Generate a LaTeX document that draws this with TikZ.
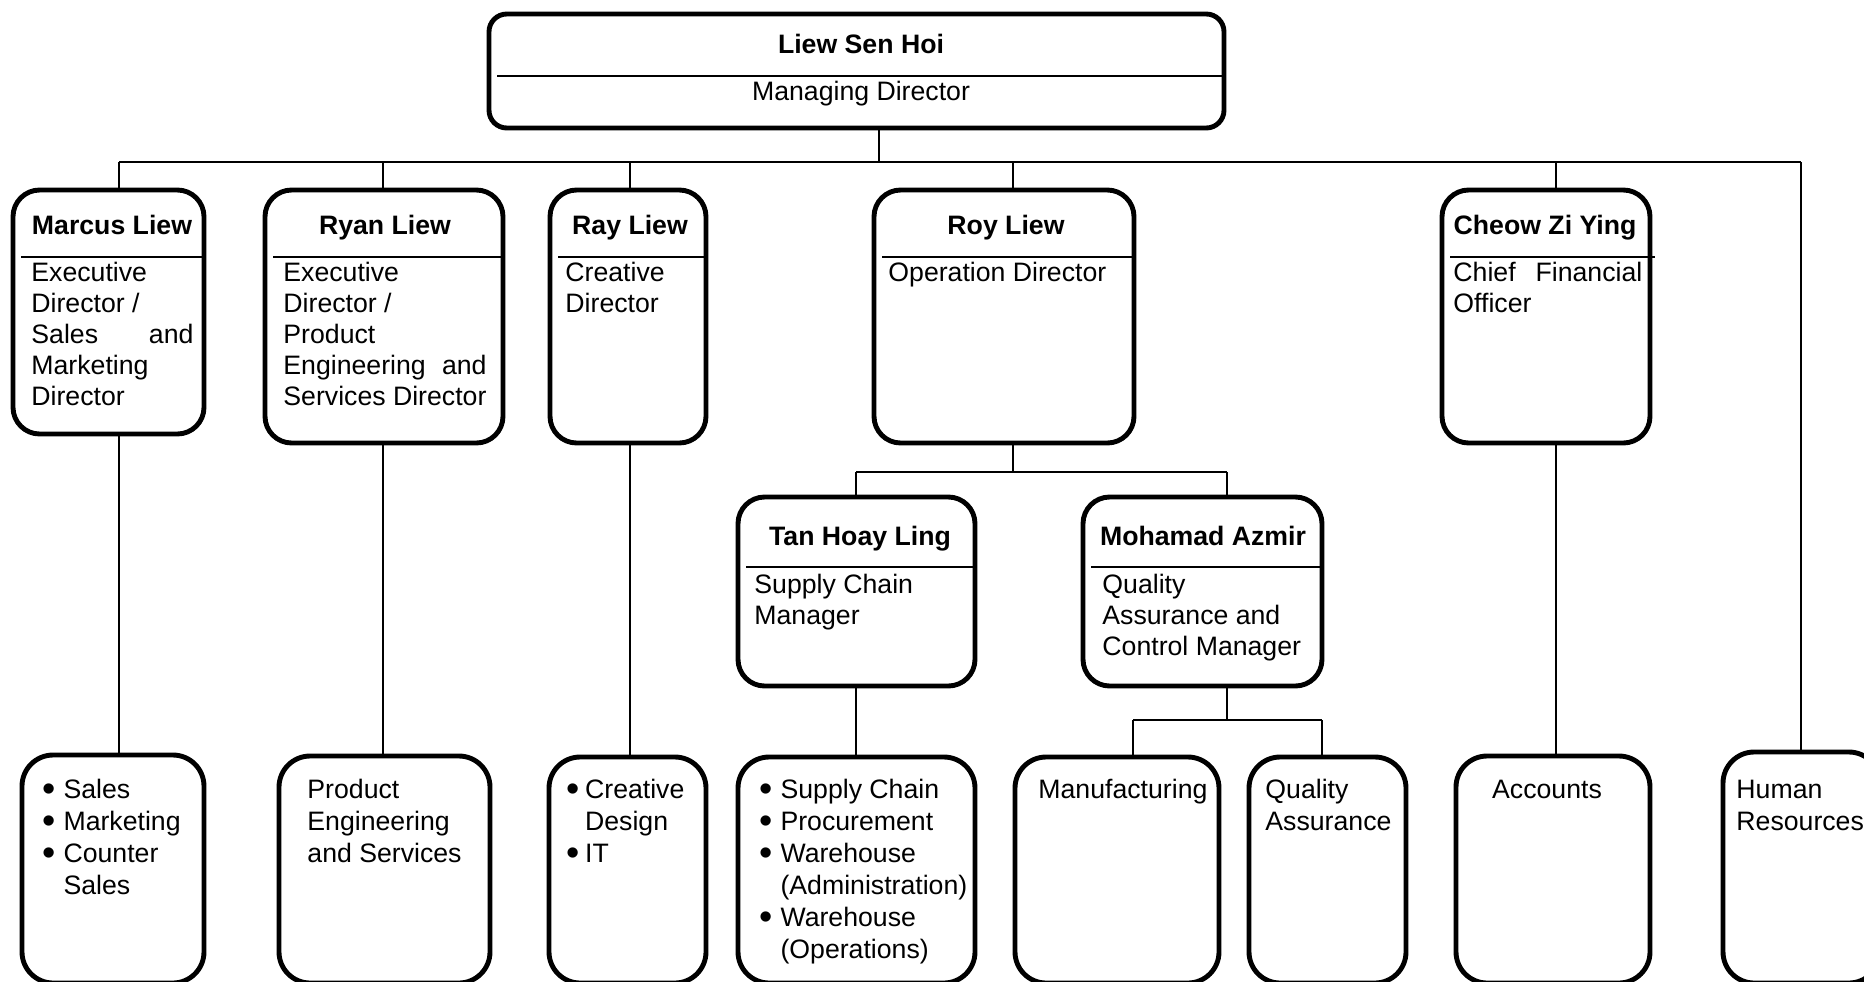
\documentclass[tikz,border=0pt]{standalone}
\usepackage{fontspec}
\setmainfont{Liberation Sans}
\usetikzlibrary{fit,calc}
\newcommand{\orgtext}[2]{\begin{minipage}[t]{#1}\raggedright #2\end{minipage}}
\newcommand{\orgbul}{\makebox[9.5pt][l]{\smash{\raisebox{-1.6pt}{\fontsize{17}{17}\selectfont\textbullet}}}}
\newcommand{\orgind}{\hspace*{9.5pt}}
\newcommand{\orgbulc}{\makebox[8.4pt][l]{\smash{\raisebox{-1.6pt}{\fontsize{17}{17}\selectfont\textbullet}}}}
\newcommand{\orgindc}{\hspace*{8.4pt}}
\begin{document}
\begin{tikzpicture}[x=0.45pt,y=-0.45pt,
  every node/.style={font=\fontsize{12}{14}\selectfont},
  box/.style={draw, line width=2.2pt, rounded corners=12pt, inner sep=0pt},
  topbox/.style={box, rounded corners=8pt},
  lowbox/.style={box, rounded corners=14pt},
  conn/.style={line width=0.9pt},
  divider/.style={line width=0.9pt},
  nametext/.style={anchor=base, inner sep=0pt, font=\fontsize{12}{14}\selectfont\bfseries},
  txt/.style={anchor=base west, inner sep=0pt},
  ltxt/.style={anchor=base west, inner sep=0pt, font=\fontsize{12}{14.4}\selectfont},
]
\useasboundingbox (0,0) rectangle (1864,981);
\clip (0,0) rectangle (1864,981);

% boxes
\node[topbox, fit={(489,14) (1224,128)}] (top) {};
\node[box, fit={(13,190) (204,434)}] (marcus) {};
\node[box, fit={(265,190) (503,443)}] (ryan) {};
\node[box, fit={(550,190) (706,443)}] (ray) {};
\node[box, fit={(874,190) (1134,443)}] (roy) {};
\node[box, fit={(1442,190) (1650,443)}] (cheow) {};
\node[box, fit={(738,497) (975,686)}] (tan) {};
\node[box, fit={(1083,497) (1322,686)}] (azmir) {};
\node[lowbox, fit={(22,755) (204,983)}] (sales) {};
\node[lowbox, fit={(279,756) (490,983)}] (prod) {};
\node[lowbox, fit={(549,757) (706,983)}] (creat) {};
\node[lowbox, fit={(738,757) (975,983)}] (supply) {};
\node[lowbox, fit={(1015,757) (1219,983)}] (manuf) {};
\node[lowbox, fit={(1249,757) (1406,983)}] (qual) {};
\node[lowbox, fit={(1456,756) (1650,983)}] (acct) {};
\node[lowbox, fit={(1723,752) (1880,983)}] (hr) {};

% dividers
\draw[divider] (497,76) -- (top.east |- 497,76);
\draw[divider] (21,257) -- (marcus.east |- 21,257);
\draw[divider] (273,257) -- (ryan.east |- 273,257);
\draw[divider] (558,257) -- (ray.east |- 558,257);
\draw[divider] (882,257) -- (roy.east |- 882,257);
\draw[divider] (1450,257) -- (1655,257);
\draw[divider] (746,567) -- (tan.east |- 746,567);
\draw[divider] (1091,567) -- (azmir.east |- 1091,567);

% connector coordinates
\coordinate (bT) at (879,162);
\coordinate (bM) at (119,162);
\coordinate (bRy) at (383,162);
\coordinate (bRa) at (630,162);
\coordinate (bRo) at (1013,162);
\coordinate (bC) at (1556,162);
\coordinate (bH) at (1801,162);
\coordinate (rB) at (1013,472);
\coordinate (tB) at (856,472);
\coordinate (aB) at (1227,472);
\coordinate (aB2) at (1227,720);
\coordinate (mB) at (1133,720);
\coordinate (qB) at (1322,720);

\draw[conn] (bT |- top.south) -- (bT);
\draw[conn] (bM) -- (bH);
\draw[conn] (bM) -- (bM |- marcus.north);
\draw[conn] (bRy) -- (bRy |- ryan.north);
\draw[conn] (bRa) -- (bRa |- ray.north);
\draw[conn] (bRo) -- (bRo |- roy.north);
\draw[conn] (bC) -- (bC |- cheow.north);
\draw[conn] (bH) -- (bH |- hr.north);
\draw[conn] (bM |- marcus.south) -- (bM |- sales.north);
\draw[conn] (bRy |- ryan.south) -- (bRy |- prod.north);
\draw[conn] (bRa |- ray.south) -- (bRa |- creat.north);
\draw[conn] (bC |- cheow.south) -- (bC |- acct.north);
\draw[conn] (rB |- roy.south) -- (rB);
\draw[conn] (tB) -- (aB);
\draw[conn] (tB) -- (tB |- tan.north);
\draw[conn] (aB) -- (aB |- azmir.north);
\draw[conn] (tB |- tan.south) -- (tB |- supply.north);
\draw[conn] (aB |- azmir.south) -- (aB2);
\draw[conn] (mB) -- (qB);
\draw[conn] (mB) -- (mB |- manuf.north);
\draw[conn] (qB) -- (qB |- qual.north);

% texts
\node[nametext] (topn) at (861,53) {Liew Sen Hoi};
\node[anchor=base, inner sep=0pt] (topt) at (861,100) {Managing Director};

\node[nametext] (marcusn) at (112,234) {Marcus Liew};
\node[txt] (marcust) at (31,281) {\orgtext{80pt}{Executive\\ Director /\\ \makebox[72.9pt]{Sales\hfill and}\\ Marketing\\ Director}};

\node[nametext] (ryann) at (385,234) {Ryan Liew};
\node[txt] (ryant) at (283,281) {\orgtext{95pt}{Executive\\ Director /\\ Product\\ \makebox[91.4pt]{Engineering\hfill and}\\ Services Director}};

\node[nametext] (rayn) at (630,234) {Ray Liew};
\node[txt] (rayt) at (565,281) {\orgtext{60pt}{Creative\\ Director}};

\node[nametext] (royn) at (1006,234) {Roy Liew};
\node[txt] (royt) at (888,281) {\orgtext{110pt}{Operation Director}};

\node[nametext] (cheown) at (1545,234) {Cheow Zi Ying};
\node[txt] (cheowt) at (1453,281) {\orgtext{90pt}{\makebox[85pt]{Chief\hfill Financial}\\ Officer}};

\node[nametext] (tann) at (860,545) {Tan Hoay Ling};
\node[txt] (tant) at (754,593) {\orgtext{100pt}{Supply Chain\\ Manager}};

\node[nametext] (azmirn) at (1203,545) {Mohamad Azmir};
\node[txt] (azmirt) at (1102,593) {\orgtext{100pt}{Quality\\ Assurance and\\ Control Manager}};

\node[ltxt] (salest) at (42,798) {\orgtext{70pt}{\orgbul Sales\\ \orgbul Marketing\\ \orgbul Counter\\ \orgind Sales}};
\node[ltxt] (prodt) at (307,798) {\orgtext{75pt}{Product\\ Engineering\\ and Services}};
\node[ltxt] (creatt) at (566,798) {\orgtext{60pt}{\orgbulc Creative\\ \orgindc Design\\ \orgbulc IT}};
\node[ltxt] (supplyt) at (759,798) {\orgtext{95pt}{\orgbul Supply Chain\\ \orgbul Procurement\\ \orgbul Warehouse\\ \orgind (Administration)\\ \orgbul Warehouse\\ \orgind (Operations)}};
\node[ltxt] (manuft) at (1038,798) {\orgtext{82pt}{Manufacturing}};
\node[ltxt] (qualt) at (1265,798) {\orgtext{62pt}{Quality\\ Assurance}};
\node[anchor=base, inner sep=0pt] (acctt) at (1547,798) {Accounts};
\node[ltxt] (hrt) at (1736,798) {\orgtext{62pt}{Human\\ Resources}};
\end{tikzpicture}
\end{document}
